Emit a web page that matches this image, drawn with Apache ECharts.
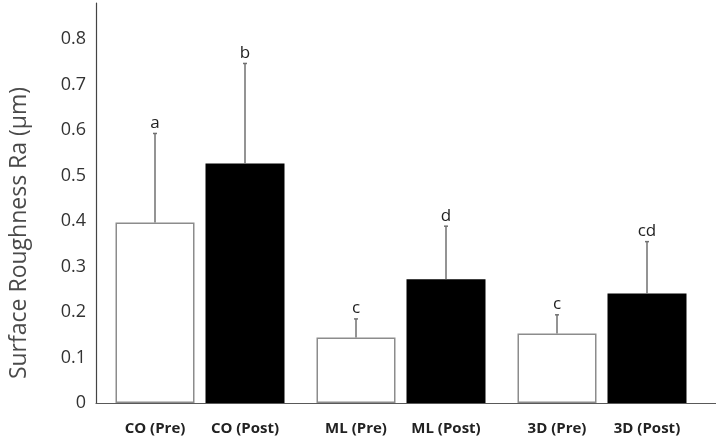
<!DOCTYPE html>
<html>
<head>
<meta charset="utf-8">
<script src="https://cdn.jsdelivr.net/npm/echarts@6/dist/echarts.min.js"></script>
<style>
html,body{margin:0;padding:0;background:#fff;}
#chart{width:716px;height:441px;}
</style>
</head>
<body>
<div id="chart"></div>
<script>
// ---- data ----
var groups = ['CO', 'ML', '3D'];
var preLabels = ['CO (Pre)', 'ML (Pre)', '3D (Pre)'];
var postLabels = ['CO (Post)', 'ML (Post)', '3D (Post)'];
var preValues = [0.397, 0.144, 0.153];
var postValues = [0.527, 0.272, 0.241];
var preSD = [0.196, 0.041, 0.041];
var postSD = [0.220, 0.117, 0.114];
var preLetters = ['a', 'c', 'c'];
var postLetters = ['b', 'd', 'cd'];
var yTicks = [0, 0.1, 0.2, 0.3, 0.4, 0.5, 0.6, 0.7, 0.8];

// ---- style ----
var FONT = '"Open Sans", "Noto Sans", sans-serif';
var BAR_W = 79;
var BAR_GAP = 11;
var Y_MAX = 0.88;

var errData = [];
for (var i = 0; i < groups.length; i++) {
  errData.push([i, preValues[i], preSD[i], -1, preLetters[i]]);
  errData.push([i, postValues[i], postSD[i], 1, postLetters[i]]);
}

function renderErr(params, api) {
  var cat = api.value(0);
  var v = api.value(1);
  var sd = api.value(2);
  var side = api.value(3);
  var letter = errData[params.dataIndex][4];
  var base = api.coord([cat, v]);
  var top = api.coord([cat, v + sd]);
  var x = base[0] + side * (BAR_W + BAR_GAP) / 2;
  var st = { stroke: '#707070', lineWidth: 1.5 };
  return {
    type: 'group',
    children: [
      { type: 'line', shape: { x1: x, y1: base[1], x2: x, y2: top[1] }, style: st },
      { type: 'line', shape: { x1: x - 2, y1: top[1], x2: x + 2, y2: top[1] }, style: st },
      { type: 'text', style: { x: x, y: top[1] - 2, text: letter, align: 'center', verticalAlign: 'bottom',
        font: '17px ' + FONT, fill: '#222' } }
    ]
  };
}

var chart = echarts.init(document.getElementById('chart'), null, { renderer: 'canvas' });
chart.setOption({
  animation: false,
  backgroundColor: '#fff',
  grid: [
    { left: 99.5, right: 13.5, top: 3, bottom: 38 },
    { left: 88, right: 0, top: 3, bottom: 38 }
  ],
  xAxis: [
    { type: 'category', gridIndex: 0, data: groups, axisLine: { show: false }, axisTick: { show: false }, axisLabel: { show: false } },
    { type: 'category', gridIndex: 1, data: [''], axisLine: { show: true, lineStyle: { color: '#595959', width: 1.2 } }, axisTick: { show: false }, axisLabel: { show: false } }
  ],
  yAxis: [
    { type: 'value', gridIndex: 0, min: 0, max: Y_MAX, show: false, splitLine: { show: false } },
    { type: 'value', gridIndex: 1, min: 0, max: Y_MAX, interval: 0.1,
      axisLine: { show: true, lineStyle: { color: '#444', width: 1.2 } },
      axisTick: { show: false }, splitLine: { show: false },
      axisLabel: { showMaxLabel: false, margin: 10, color: '#333', fontSize: 18, fontFamily: FONT,
        formatter: function (v) { var idx = yTicks.indexOf(Math.round(v * 10) / 10); return idx >= 0 ? String(yTicks[idx]) : ''; } },
      name: 'Surface Roughness Ra (\u03bcm)', nameLocation: 'middle', nameGap: 65,
      nameTextStyle: { fontSize: 23, color: '#4a4a4a', fontFamily: FONT, padding: [0, 60, 0, 0] }
    }
  ],
  series: [
    { name: 'Pre', type: 'bar', xAxisIndex: 0, yAxisIndex: 0, data: preValues, barWidth: BAR_W,
      barGap: (BAR_GAP / BAR_W * 100) + '%',
      itemStyle: { color: '#fff', borderColor: '#8c8c8c', borderWidth: 1.5 },
      label: { show: true, position: 'bottom', distance: 18, fontSize: 15, fontWeight: 'bold', color: '#222', fontFamily: FONT,
        formatter: function (p) { return preLabels[p.dataIndex]; } } },
    { name: 'Post', type: 'bar', xAxisIndex: 0, yAxisIndex: 0, data: postValues, barWidth: BAR_W,
      barGap: (BAR_GAP / BAR_W * 100) + '%',
      itemStyle: { color: '#000' },
      label: { show: true, position: 'bottom', distance: 18, fontSize: 15, fontWeight: 'bold', color: '#222', fontFamily: FONT,
        formatter: function (p) { return postLabels[p.dataIndex]; } } },
    { name: 'err', type: 'custom', xAxisIndex: 0, yAxisIndex: 0, data: errData, renderItem: renderErr, z: 5 }
  ]
});
</script>
</body>
</html>
